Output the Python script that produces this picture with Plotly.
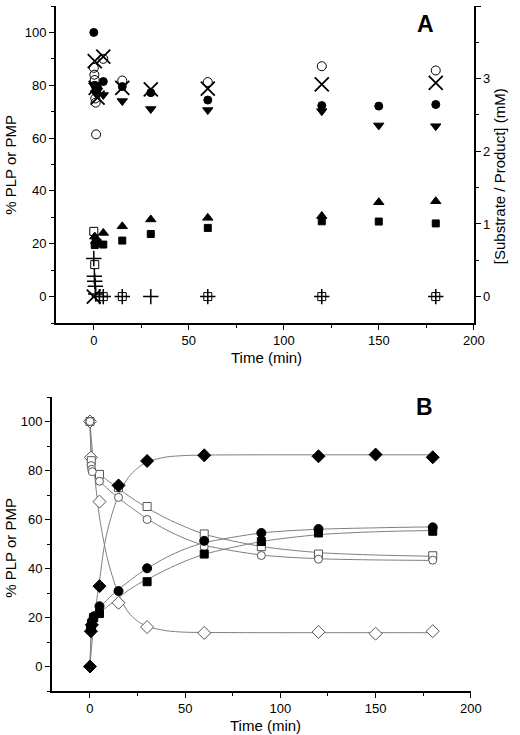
import plotly.graph_objects as go

# ---------------- Panel A data (% units on left axis) ----------------
A_t_circle = [0, 0.5, 1, 2, 5, 15, 30, 60, 120, 150, 180]
A_circle = [100, 80, 78, 79, 81.4, 79.5, 77.2, 74.4, 72.3, 72.1, 72.7]

A_t_tridown = [0, 1, 2, 5, 15, 30, 60, 120, 150, 180]
A_tridown = [80, 77, 78, 76.3, 74, 71, 70.6, 70.2, 64.8, 64.5]

A_t_opencircle = [0, 0.3, 0.5, 0.8, 1, 1.2, 5, 15, 60, 120, 180]
A_opencircle = [86.6, 84, 82, 75, 73.4, 61.4, 90, 81.8, 81.2, 87.2, 85.6]

A_t_x = [0, 0.5, 1, 2, 5, 15, 30, 60, 120, 180]
A_x = [0, 89.1, 79, 75.3, 90.8, 79, 78.4, 78.7, 80.3, 80.9]

A_t_triup = [0.5, 1, 2, 5, 15, 30, 60, 120, 150, 180]
A_triup = [22.7, 21, 20, 24.1, 26.6, 29.2, 29.8, 30.5, 35.7, 36.1]

A_t_square = [0.5, 1, 2, 5, 15, 30, 60, 120, 150, 180]
A_square = [19.5, 20.5, 20.4, 19.7, 21.2, 23.7, 26, 28.5, 28.4, 27.7]

A_t_opensq = [0, 0.5, 3, 5, 15, 60, 120, 180]
A_opensq = [24.7, 12.1, 0, 0, 0, 0, 0, 0]

A_t_plus = [0, 0.3, 0.5, 0.8, 1, 3, 5, 15, 30, 60, 120, 180]
A_plus = [14.4, 7.7, 5.8, 3.9, 1, 0, 0, 0, 0, 0, 0, 0]

# ---------------- Panel B data ----------------
B_t_dia = [0, 0.5, 1, 5, 15, 30, 60, 120, 150, 180]
B_dia = [0, 14.4, 17, 32.8, 73.9, 83.9, 86.2, 85.8, 86.5, 85.4]

B_t_circ = [0.5, 1, 2, 5, 15, 30, 60, 90, 120, 180]
B_circ = [16, 18.5, 20.5, 24.6, 30.8, 40.1, 51.3, 54.5, 56.1, 56.8]

B_t_sq = [0.5, 1, 2, 5, 30, 60, 90, 120, 180]
B_sq = [15, 17.5, 20, 21.6, 34.6, 45.9, 51, 54.5, 55.2]

B_t_ocirc = [0, 0.6, 0.9, 1.2, 5, 15, 30, 60, 90, 120, 180]
B_ocirc = [100, 82, 80.5, 79.5, 75.6, 69, 60, 48.8, 45.3, 43.8, 43.4]

B_t_osq = [0, 0.7, 5, 15, 30, 60, 90, 120, 180]
B_osq = [100, 84, 78.4, 73, 65.3, 54.1, 48.9, 45.9, 45.2]

B_t_odia = [0, 0.5, 5, 15, 30, 60, 120, 150, 180]
B_odia = [100, 85.3, 67.3, 26, 16.1, 13.7, 14.1, 13.4, 14.4]

# fitted curves
C_t = [0, 0.5, 1, 2, 3, 5, 7.5, 10, 15, 20, 25, 30, 40, 50, 60, 90, 120, 150, 180]
C_dia = [0, 5, 9, 17.5, 24, 35, 49, 58, 70, 77, 81, 83.5, 85.5, 86.1, 86.3, 86.4, 86.4, 86.4, 86.4]
C_odia = [100, 95, 90.4, 81.8, 74, 61, 50, 41.5, 29.5, 22.3, 18.5, 16.4, 14.6, 14.0, 13.9, 13.8, 13.8, 13.8, 13.8]
C_ocirc = [100, 88, 81, 79.6, 78.8, 75.8, 73.8, 72, 68.8, 65.8, 63, 60.3, 55.8, 52.2, 49.5, 45.5, 44, 43.5, 43.3]
C_osq = [100, 88, 82.5, 81, 80.2, 78.4, 77, 75.5, 72.6, 69.8, 67.2, 64.8, 60.5, 57, 54, 49, 46.5, 45.5, 45]
C_circ = [0, 12, 18, 20.5, 21.8, 24, 26, 28, 31.5, 34.5, 37.5, 40, 44.5, 48, 50.5, 54.5, 56, 56.6, 57]
C_sq = [0, 11, 16.5, 19, 20.2, 21.8, 23.4, 25, 28, 31, 33.5, 35.5, 39.5, 43, 45.8, 51, 53.8, 55, 55.5]

FONT = "Liberation Sans, Arial, sans-serif"
GRAY = "#7f7f7f"
OGRAY = "#555555"
TICKSIZE = 13
TITLESIZE = 15

fig = go.Figure()

def mk(x, y, symbol, size, xa, ya, color="black", lw=1, fill=None):
    m = dict(symbol=symbol, size=size, color=fill if fill else color,
             line=dict(color=color, width=lw))
    return go.Scatter(x=x, y=y, mode="markers", marker=m, xaxis=xa, yaxis=ya,
                      showlegend=False, hoverinfo="x+y")

# Panel A markers
fig.add_trace(mk(A_t_opensq, A_opensq, "square-open", 8, "x", "y", lw=1))
fig.add_trace(mk(A_t_plus, A_plus, "cross-thin-open", 11, "x", "y", lw=1.5))
fig.add_trace(mk(A_t_square, A_square, "square", 7, "x", "y"))
fig.add_trace(mk(A_t_triup, A_triup, "triangle-up", 9, "x", "y"))
fig.add_trace(mk(A_t_tridown, A_tridown, "triangle-down", 9, "x", "y"))
fig.add_trace(mk(A_t_circle, A_circle, "circle", 8, "x", "y"))
fig.add_trace(mk(A_t_opencircle, A_opencircle, "circle-open", 9, "x", "y", lw=1))
fig.add_trace(mk(A_t_x, A_x, "x-thin-open", 14, "x", "y", lw=1.8))
# right-axis anchor trace
fig.add_trace(go.Scatter(x=[None], y=[None], xaxis="x", yaxis="y3", showlegend=False))

# Panel B curves
for cy in [C_dia, C_odia, C_ocirc, C_osq, C_circ, C_sq]:
    fig.add_trace(go.Scatter(x=C_t, y=cy, mode="lines", xaxis="x2", yaxis="y2",
                             line=dict(color=GRAY, width=1, shape="spline", smoothing=0.8),
                             showlegend=False, hoverinfo="skip"))
# Panel B markers
fig.add_trace(mk(B_t_odia, B_odia, "diamond", 10, "x2", "y2", color=OGRAY, fill="white"))
fig.add_trace(mk(B_t_osq, B_osq, "square", 8, "x2", "y2", color=OGRAY, fill="white"))
fig.add_trace(mk(B_t_ocirc, B_ocirc, "circle", 8, "x2", "y2", color=OGRAY, fill="white"))
fig.add_trace(mk(B_t_sq, B_sq, "square", 8, "x2", "y2"))
fig.add_trace(mk(B_t_circ, B_circ, "circle", 9, "x2", "y2"))
fig.add_trace(mk(B_t_dia, B_dia, "diamond", 10, "x2", "y2"))

W, H = 520, 735
def px(v): return v / W
def py(v): return 1 - v / H

axis_common = dict(showline=True, linecolor="black", linewidth=1.5, ticks="outside",
                   ticklen=5, tickwidth=1.2, tickcolor="black", showgrid=False,
                   zeroline=False, tickfont=dict(family=FONT, size=TICKSIZE, color="black"))

xcommon = dict(axis_common, range=[-20, 200], tick0=0, dtick=50,
               minor=dict(dtick=25, ticks="outside", ticklen=3, tickcolor="black"))
ycommon = dict(axis_common, range=[-10, 110], tick0=0, dtick=20,
               minor=dict(dtick=10, ticks="outside", ticklen=3, tickcolor="black"))

def ann(text, x, y, angle=0, size=TITLESIZE):
    return dict(text=text, x=px(x), y=py(y), xref="paper", yref="paper", showarrow=False,
                textangle=angle, font=dict(family=FONT, size=size, color="black"),
                xanchor="center", yanchor="middle")

fig.update_layout(
    width=W, height=H,
    margin=dict(l=0, r=0, t=0, b=0),
    paper_bgcolor="white", plot_bgcolor="white",
    showlegend=False,
    xaxis=dict(xcommon, domain=[px(57), px(484)], anchor="y"),
    yaxis=dict(ycommon, domain=[py(323), py(6)], anchor="x"),
    yaxis3=dict(axis_common, overlaying="y", side="right", anchor="x",
                range=[-10 / 27.5, 110 / 27.5], tick0=0, dtick=1,
                minor=dict(dtick=0.5, ticks="outside", ticklen=3, tickcolor="black")),
    xaxis2=dict(xcommon, domain=[px(53), px(481)], anchor="y2"),
    yaxis2=dict(ycommon, domain=[py(691), py(397)], anchor="x2"),
    annotations=[
        ann("<b>A</b>", 435, 23.5, size=23),
        ann("<b>B</b>", 434, 407.5, size=23),
        ann("% PLP or PMP", 10, 165, angle=-90),
        ann("[Substrate / Product] (mM)", 510, 176, angle=-90),
        ann("Time (min)", 272, 358),
        ann("Time (min)", 271, 725),
        ann("% PLP or PMP", 10, 548, angle=-90),
    ],
)

fig.write_html("out.html", config={"displayModeBar": False},
               post_script="document.body.style.margin='0';document.body.style.overflow='hidden';")
